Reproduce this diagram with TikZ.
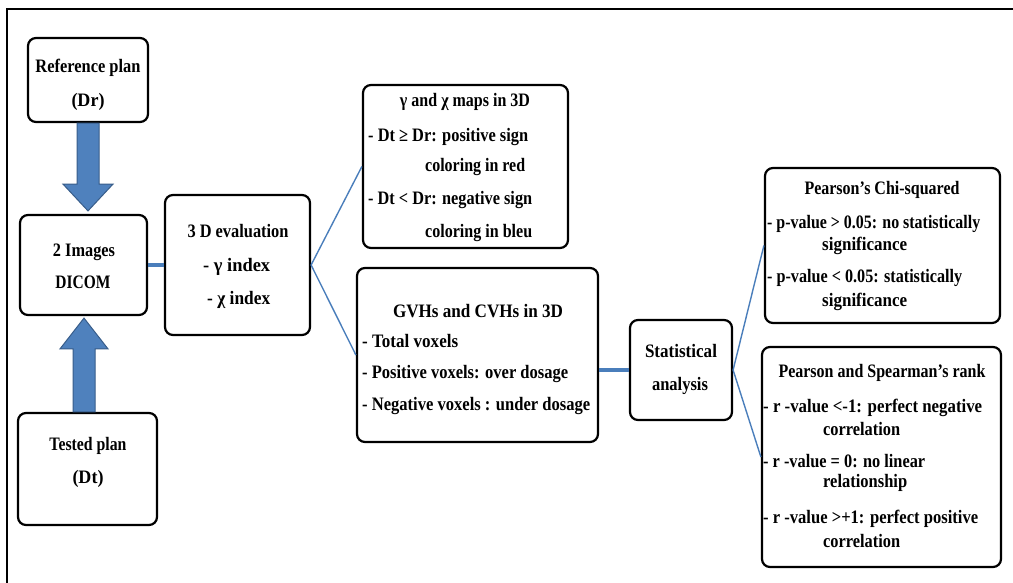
\documentclass[tikz,border=0pt]{standalone}
\usepackage{fontspec}
\setmainfont{Liberation Serif}
\usepackage{graphicx}
\usetikzlibrary{calc}
\newcommand\lnfit[2]{\resizebox{#1pt}{\height}{#2}}
\definecolor{conn}{HTML}{4A7EBB}
\definecolor{arrfill}{HTML}{4F81BD}
\definecolor{arrdraw}{HTML}{385D8A}
\tikzset{
  box/.style={draw=black, line width=2.2pt, rounded corners=8pt, fill=white, inner sep=0pt},
  txt/.style={inner sep=0pt, font=\fontsize{19}{22}\selectfont\bfseries},
  thinconn/.style={draw=conn, line width=1.4pt},
  thickconn/.style={draw=conn, line width=3.5pt},
  fat/.style={fill=arrfill, draw=arrdraw, line width=1pt, line join=miter}
}
\begin{document}
\begin{tikzpicture}[x=1pt, y=-1pt]
\clip (0,0) rectangle (1013,583);
\fill[white] (0,0) rectangle (1013,583);
\draw[line width=2pt] (7,600) -- (7,9) -- (1030,9);

% boxes
\node[box, minimum width=120, minimum height=84] (ref) at (88,80) {};
\node[box, minimum width=127, minimum height=100] (dicom) at (83.5,265) {};
\node[box, minimum width=139, minimum height=112] (tested) at (87.5,469) {};
\node[box, minimum width=145, minimum height=140] (eval) at (237.5,265) {};
\node[box, minimum width=205, minimum height=163] (gam) at (465.5,166.5) {};
\node[box, minimum width=241, minimum height=174] (gvh) at (477.5,355) {};
\node[box, minimum width=102, minimum height=100] (stat) at (681,370) {};
\node[box, minimum width=235, minimum height=155] (chi) at (882.5,245.5) {};
\node[box, minimum width=239, minimum height=220] (pear) at (881.5,457) {};

% fat arrows
\coordinate (dtop) at (ref.south);
\coordinate (dtip) at ($(dicom.north)+(4.5,-3)$);
\filldraw[fat] ($(dtop)+(-11,0)$) -- ($(dtop)+(-11,61)$) -- ($(dtop)+(-25,61)$) -- (dtip)
  -- ($(dtop)+(25,61)$) -- ($(dtop)+(11,61)$) -- ($(dtop)+(11,0)$) -- cycle;
\coordinate (ubot) at ($(tested.north)+(-3.5,0)$);
\coordinate (utip) at ($(dicom.south)+(0.5,2)$);
\filldraw[fat] ($(ubot)+(-11,0)$) -- ($(ubot)+(-11,-63)$) -- ($(ubot)+(-24,-63)$) -- (utip)
  -- ($(ubot)+(24,-63)$) -- ($(ubot)+(11,-63)$) -- ($(ubot)+(11,0)$) -- cycle;

% connectors
\draw[thickconn] (dicom.east) -- (eval.west);
\draw[thinconn] (eval.east) -- (gam.west);
\draw[thinconn] (eval.east) -- (gvh.west);
\draw[thickconn] (gvh.east |- stat.west) -- (stat.west);
\draw[thinconn] (stat.east) -- (chi.west);
\draw[thinconn] (stat.east) -- (pear.west);

% texts
\node[txt, anchor=base] (r1) at (88,73) {\lnfit{105}{Reference plan}};
\node[txt, anchor=base] (r2) at (88,107) {\lnfit{33}{(Dr)}};

\node[txt, anchor=base] (d1) at (84,257) {\lnfit{62}{2 Images}};
\node[txt, anchor=base] (d2) at (83,288) {\lnfit{55}{DICOM}};

\node[txt, anchor=base] (t1) at (88,450) {\lnfit{77}{Tested plan}};
\node[txt, anchor=base] (t2) at (88,483) {\lnfit{31}{(Dt)}};

\node[txt, anchor=base] (e1) at (238,238) {\lnfit{101}{3 D evaluation}};
\node[txt, anchor=base west] (e2) at (203,272) {\lnfit{67}{- γ index}};
\node[txt, anchor=base west] (e3) at (207,305) {\lnfit{63}{- χ index}};

\node[txt, anchor=base] (g1) at (465,107) {\lnfit{130}{γ and χ maps in 3D}};
\node[txt, anchor=base west] (g2) at (368,142) {\lnfit{160}{- Dt ≥ Dr: positive sign}};
\node[txt, anchor=base west] (g3) at (425,172) {\lnfit{100}{coloring in red}};
\node[txt, anchor=base west] (g4) at (368,205) {\lnfit{164}{- Dt < Dr: negative sign}};
\node[txt, anchor=base west] (g5) at (425,237) {\lnfit{107}{coloring in bleu}};

\node[txt, anchor=base] (v1) at (478,317) {\lnfit{170}{GVHs and CVHs in 3D}};
\node[txt, anchor=base west] (v2) at (362,347) {\lnfit{96}{- Total voxels}};
\node[txt, anchor=base west] (v3) at (362,378) {\lnfit{206}{- Positive voxels: over dosage}};
\node[txt, anchor=base west] (v4) at (362,410) {\lnfit{228}{- Negative voxels : under dosage}};

\node[txt, anchor=base] (s1) at (681,357) {\lnfit{72}{Statistical}};
\node[txt, anchor=base] (s2) at (680,390) {\lnfit{56}{analysis}};

\node[txt, anchor=base] (c1) at (882,195) {\lnfit{155}{Pearson\char"0027 s Chi-squared}};
\node[txt, anchor=base west] (c2) at (767,229) {\lnfit{213}{- p-value > 0.05: no statistically}};
\node[txt, anchor=base west] (c3) at (822,251) {\lnfit{85}{significance}};
\node[txt, anchor=base west] (c4) at (767,283) {\lnfit{195}{- p-value < 0.05: statistically}};
\node[txt, anchor=base west] (c5) at (822,306) {\lnfit{85}{significance}};

\node[txt, anchor=base] (p1) at (882,377) {\lnfit{207}{Pearson and Spearman’s rank}};
\node[txt, anchor=base west] (p2) at (763,412) {\lnfit{219}{- r -value <-1: perfect negative}};
\node[txt, anchor=base west] (p3) at (823,435) {\lnfit{77}{correlation}};
\node[txt, anchor=base west] (p4) at (763,467) {\lnfit{162}{- r -value = 0: no linear}};
\node[txt, anchor=base west] (p5) at (823,487) {\lnfit{84}{relationship}};
\node[txt, anchor=base west] (p6) at (763,523) {\lnfit{215}{- r -value >+1: perfect positive}};
\node[txt, anchor=base west] (p7) at (823,547) {\lnfit{77}{correlation}};
\end{tikzpicture}
\end{document}
